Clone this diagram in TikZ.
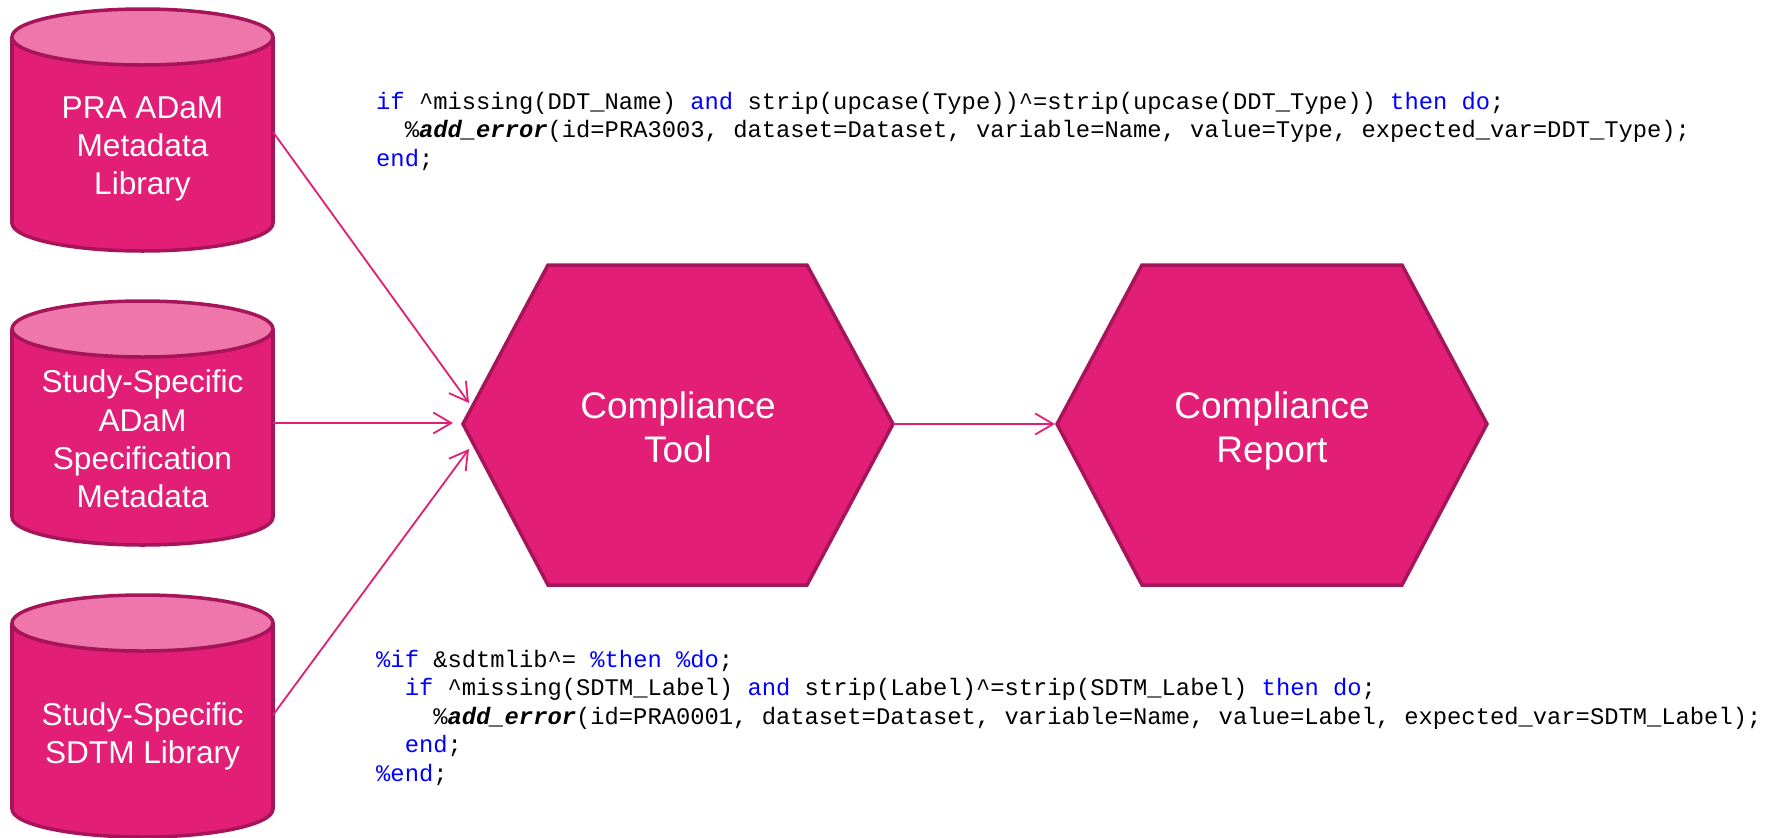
\documentclass[tikz,border=0pt]{standalone}
\usepackage{fontspec}
\setmainfont{Liberation Sans}
\newfontfamily\codefont{Liberation Mono}
\usetikzlibrary{arrows.meta}
\definecolor{pinkfill}{RGB}{226,30,118}
\definecolor{pinkedge}{RGB}{166,20,90}
\definecolor{pinktop}{RGB}{238,118,170}
\definecolor{kwblue}{RGB}{0,0,255}
\newcommand{\mycyl}[2]{%
  \filldraw[shapeline, fill=pinkfill] (142.5,#2) ellipse[x radius=130.5pt, y radius=28pt];
  \fill[pinkfill] (12,#1) rectangle (273,#2);
  \draw[shapeline] (12,#1) -- (12,#2) (273,#1) -- (273,#2);
  \filldraw[shapeline, fill=pinktop] (142.5,#1) ellipse[x radius=130.5pt, y radius=28pt];
}
\newcommand{\kw}[1]{{\color{kwblue}#1}}
\newcommand{\mac}[1]{{\bfseries\itshape #1}}
\begin{document}
\begin{tikzpicture}[x=1pt,y=-1pt,
  shapeline/.style={draw=pinkedge, line width=3.5pt, line join=miter},
  cyltext/.style={text=white, font=\fontsize{31.6}{38.3}\selectfont, align=center, inner sep=0pt},
  hextext/.style={text=white, font=\fontsize{37}{44}\selectfont, align=center, inner sep=0pt},
  codeline/.style={anchor=base west, inner sep=0pt, font=\codefont\fontsize{23.8}{28.5}\selectfont},
  flow/.style={draw=pinkfill, line width=1.8pt, -{Straight Barb[length=18pt,width=21pt,line width=1.8pt]}},
]
\useasboundingbox (0,0) rectangle (1781,838);

% databases
\mycyl{37}{223}
\mycyl{329}{517}
\mycyl{623}{809}
\node[cyltext] (db1) at (142.5,149) {PRA ADaM\\Metadata\\Library};
\node[cyltext] (db2) at (142.5,439) {Study-Specific\\ADaM\\Specification\\Metadata};
\node[cyltext] (db3) at (142.5,736.5) {Study-Specific\\SDTM Library};
\coordinate (db1out) at (273,132);
\coordinate (db2out) at (273,423);
\coordinate (db3out) at (273,715);

% hexagons
\filldraw[shapeline, fill=pinkfill] (463,424) -- (548,265) -- (807,265) -- (893,424) -- (807,585) -- (548,585) -- cycle;
\filldraw[shapeline, fill=pinkfill] (1057,424) -- (1142,265) -- (1402,265) -- (1487,424) -- (1402,585) -- (1142,585) -- cycle;
\node[hextext] (tool) at (678,427) {Compliance\\Tool};
\node[hextext] (report) at (1272,431) {Compliance\\Report};
\coordinate (toolin1) at (469,403);
\coordinate (toolin2) at (453,423);
\coordinate (toolin3) at (469,449);
\coordinate (toolout) at (893,424);
\coordinate (reportin) at (1055,424);

% connectors
\draw[flow] (db1out) -- (toolin1);
\draw[flow] (db2out) -- (toolin2);
\draw[flow] (db3out) -- (toolin3);
\draw[flow] (toolout) -- (reportin);

% code (top)
\node[codeline] (ca1) at (376,109.3) {\kw{if} \textasciicircum missing(DDT\_Name) \kw{and} strip(upcase(Type))\textasciicircum=strip(upcase(DDT\_Type)) \kw{then do};};
\node[codeline] (ca2) at (404.6,137.8) {\%\mac{add\_error}(id=PRA3003, dataset=Dataset, variable=Name, value=Type, expected\_var=DDT\_Type);};
\node[codeline] (ca3) at (376,166.3) {\kw{end};};

% code (bottom)
\node[codeline] (cb1) at (376,667.3) {\kw{\%if} \&sdtmlib\textasciicircum= \kw{\%then \%do};};
\node[codeline] (cb2) at (404.6,695.8) {\kw{if} \textasciicircum missing(SDTM\_Label) \kw{and} strip(Label)\textasciicircum=strip(SDTM\_Label) \kw{then do};};
\node[codeline] (cb3) at (433.1,724.3) {\%\mac{add\_error}(id=PRA0001, dataset=Dataset, variable=Name, value=Label, expected\_var=SDTM\_Label);};
\node[codeline] (cb4) at (404.6,752.8) {\kw{end};};
\node[codeline] (cb5) at (376,781.3) {\kw{\%end};};
\end{tikzpicture}
\end{document}
